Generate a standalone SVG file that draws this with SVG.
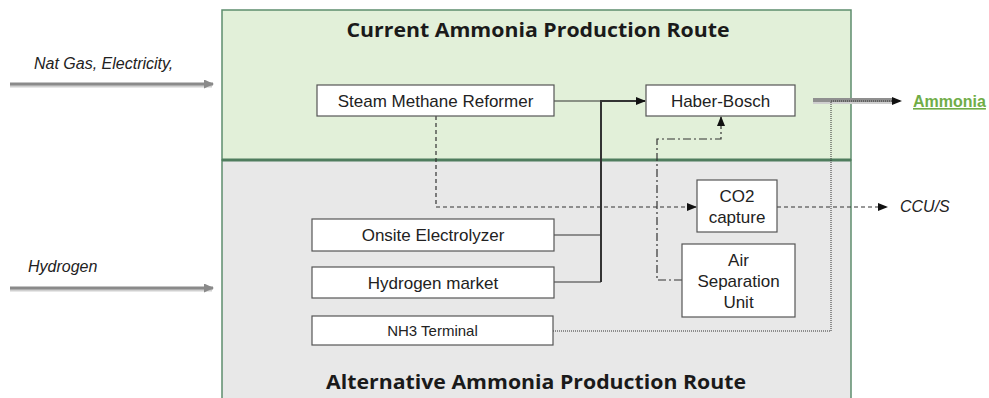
<svg xmlns="http://www.w3.org/2000/svg" width="989" height="398" viewBox="0 0 989 398">
<style>
.box{fill:#fff;stroke:#555;stroke-width:1.2}
.bt{font-family:"Liberation Sans",Arial,sans-serif;font-size:17px;fill:#222;text-anchor:middle}
.it{font-family:"Liberation Sans",Arial,sans-serif;font-size:16px;font-style:italic;fill:#222}
.title{font-family:"Open Sans","Liberation Sans",sans-serif;font-size:19px;font-weight:bold;fill:#1a1a1a;text-anchor:middle}
.c{fill:none;stroke:#333}
</style>
<defs>
<marker id="ah" markerWidth="10" markerHeight="8" refX="9" refY="4" orient="auto" markerUnits="userSpaceOnUse">
<path d="M0,0 L10,4 L0,8 Z" fill="#111"/>
</marker>
<marker id="gh" markerWidth="10" markerHeight="9" refX="9" refY="4.5" orient="auto" markerUnits="userSpaceOnUse">
<path d="M0,0 L10,4.5 L0,9 Z" fill="#8a8a8a"/>
</marker>
</defs>
<g id="panels">
<rect x="222" y="10" width="629" height="150" fill="#e2f0d9" stroke="#5e8d6d" stroke-width="1.5"/>
<rect x="222" y="160" width="629" height="240" fill="#e8e8e8" stroke="#5e8d6d" stroke-width="1.5"/>
<line x1="222" y1="160" x2="851" y2="160" stroke="#4f7d5e" stroke-width="3"/>
<text class="title" x="538" y="37" textLength="383" lengthAdjust="spacingAndGlyphs">Current Ammonia Production Route</text>
<text class="title" x="536" y="389" textLength="420" lengthAdjust="spacingAndGlyphs">Alternative Ammonia Production Route</text>
</g>
<g id="connectors">
<line x1="10" y1="86" x2="212" y2="86" stroke="#d0d0d0" stroke-width="3"/>
<line x1="10" y1="84" x2="213" y2="84" stroke="#8a8a8a" stroke-width="3" marker-end="url(#gh)"/>
<line x1="10" y1="290" x2="212" y2="290" stroke="#d0d0d0" stroke-width="3"/>
<line x1="10" y1="288" x2="213" y2="288" stroke="#8a8a8a" stroke-width="3" marker-end="url(#gh)"/>
<line x1="813" y1="102" x2="895" y2="102" stroke="#cfcfcf" stroke-width="4"/>
<line x1="813" y1="100" x2="895" y2="100" stroke="#8f8f8f" stroke-width="4"/>
<line x1="554" y1="101" x2="601" y2="101" class="c" stroke-width="1.2"/>
<line x1="601" y1="101" x2="645" y2="101" class="c" stroke-width="2" marker-end="url(#ah)"/>
<line x1="601" y1="100" x2="601" y2="282" class="c" stroke-width="2"/>
<polyline points="554,235 601,235" class="c" stroke-width="1.2"/>
<polyline points="554,282 601,282" class="c" stroke-width="1.2"/>
<polyline points="436,116 436,207 696,207" class="c" stroke-width="1.2" stroke-dasharray="4,3" marker-end="url(#ah)"/>
<polyline points="777,207 887,207" class="c" stroke-width="1.2" stroke-dasharray="4,3" marker-end="url(#ah)"/>
<polyline points="682,280 657,280 657,139 721,139 721,117" class="c" stroke-width="1.2" stroke-dasharray="8,3,2,3" marker-end="url(#ah)"/>
<polyline points="553,331 831,331 831,101 901,101" class="c" stroke-width="1" stroke-dasharray="1,1" marker-end="url(#ah)"/>
</g>
<g id="labels">
<text class="it" x="34" y="69">Nat Gas, Electricity,</text>
<text class="it" x="28" y="272">Hydrogen</text>
<text class="it" x="900" y="212">CCU/S</text>
<text x="913" y="107" font-family="Liberation Sans,Arial,sans-serif" font-size="16" font-weight="bold" fill="#70ad47" text-decoration="underline">Ammonia</text>
</g>
<g id="smr"><rect class="box" x="317" y="85" width="237" height="31"/><text class="bt" x="435.5" y="107">Steam Methane Reformer</text></g>
<g id="hb"><rect class="box" x="646" y="85" width="149" height="31"/><text class="bt" x="720.5" y="107">Haber-Bosch</text></g>
<g id="co2"><rect class="box" x="697" y="180" width="80" height="52"/><text class="bt" x="737" y="202">CO2</text><text class="bt" x="737" y="223">capture</text></g>
<g id="elec"><rect class="box" x="312" y="219" width="242" height="32"/><text class="bt" x="433" y="241">Onsite Electrolyzer</text></g>
<g id="h2m"><rect class="box" x="312" y="267" width="242" height="31"/><text class="bt" x="433" y="289">Hydrogen market</text></g>
<g id="asu"><rect class="box" x="682" y="244" width="113" height="73"/><text class="bt" x="738.5" y="266">Air</text><text class="bt" x="738.5" y="287">Separation</text><text class="bt" x="738.5" y="308">Unit</text></g>
<g id="nh3"><rect class="box" x="312" y="316" width="241" height="29"/><text x="432.5" y="336" font-family="Liberation Sans,Arial,sans-serif" font-size="15" fill="#222" text-anchor="middle">NH3 Terminal</text></g>
</svg>
